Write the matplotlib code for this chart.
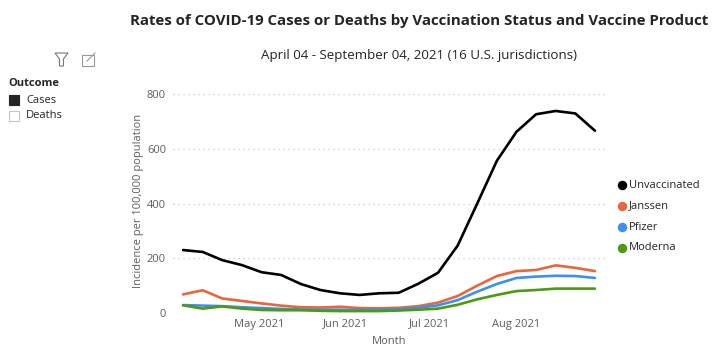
import numpy as np
import pandas as pd
import matplotlib
matplotlib.use("Agg")
import matplotlib.pyplot as plt
import matplotlib.dates as mdates
from matplotlib.patches import Rectangle, Polygon

plt.rcParams["font.family"] = ["Open Sans", "DejaVu Sans"]

# weekly values, MMWR weeks 14-35 (week start dates)
weeks = pd.date_range("2021-04-04", periods=22, freq="7D")

unvaccinated = [230, 223, 193, 175, 149, 139, 106, 84, 72, 66, 72,
                74, 107, 147, 246, 400, 556, 662, 726, 738, 729, 666]
janssen = [68, 83, 53, 44, 35, 27, 21, 20, 23, 18, 17,
           19, 25, 38, 62, 100, 135, 153, 157, 174, 165, 153]
pfizer = [29, 27, 25, 21, 18, 15, 13, 12, 12, 11, 12,
          14, 19, 28, 47, 78, 106, 128, 133, 136, 135, 128]
moderna = [28, 16, 24, 16, 11, 10, 10, 8, 7, 7, 7,
           9, 12, 16, 30, 50, 66, 80, 84, 89, 89, 89]

series_names = ["Unvaccinated", "Janssen", "Pfizer", "Moderna"]
series_colors = ["#000000", "#E8663A", "#3D8EF5", "#4C9A10"]
series_values = [unvaccinated, janssen, pfizer, moderna]

outcomes = ["Cases", "Deaths"]

W, H = 720, 354
fig = plt.figure(figsize=(W / 100, H / 100), dpi=100)

# plot area
ax_left, ax_right, ax_bottom, y800 = 173, 605, 313, 94
ymax = 820
top_px = ax_bottom - (ax_bottom - y800) * ymax / 800
ax = fig.add_axes([ax_left / W, (H - ax_bottom) / H,
                   (ax_right - ax_left) / W, (ax_bottom - top_px) / H])

for name, col, vals in zip(series_names, series_colors, series_values):
    ax.plot(weeks, vals, color=col, lw=1.9, solid_capstyle="round",
            solid_joinstyle="round", label=name, zorder=3)

pad = pd.Timedelta(days=3.6)
ax.set_xlim(weeks[0] - pad, weeks[-1] + pad)
ax.set_ylim(0, ymax)
ax.set_yticks([0, 200, 400, 600, 800])
ax.xaxis.set_major_locator(mdates.MonthLocator(bymonth=[5, 6, 7, 8]))
ax.xaxis.set_major_formatter(mdates.DateFormatter("%b %Y"))
ax.grid(axis="y", color="#C8C8C8", ls=(0, (1, 3)), lw=0.9)
ax.set_axisbelow(True)
for s in ax.spines.values():
    s.set_visible(False)
ax.tick_params(length=0, labelsize=8, colors="#605E5C", pad=4)
ax.tick_params(axis="y", pad=5)
ax.set_xlabel("Month", fontsize=8, color="#605E5C", labelpad=5)
ax.set_ylabel("Incidence per 100,000 population", fontsize=8,
              color="#605E5C", labelpad=2)

# titles
fig.text(419 / W, 1 - 21 / H,
         "Rates of COVID-19 Cases or Deaths by Vaccination Status and Vaccine Product",
         ha="center", va="center", fontsize=10.8, fontweight="bold", color="#252423")
fig.text(419 / W, 1 - 55 / H, "April 04 - September 04, 2021 (16 U.S. jurisdictions)",
         ha="center", va="center", fontsize=9.6, color="#252423")

# right legend
for i, (name, col) in enumerate(zip(series_names, series_colors)):
    yy = 1 - (185 + i * 21) / H
    fig.text(629 / W, yy, name, ha="left", va="center", fontsize=8, color="#252423")
    fig.add_artist(plt.Line2D([622 / W], [yy], marker="o", markersize=5.8,
                              color=col, linestyle="none",
                              transform=fig.transFigure))

# left slicer panel
fig.text(8 / W, 1 - 83 / H, "Outcome", ha="left", va="center",
         fontsize=8, fontweight="bold", color="#252423")
box_fill = ["#252423", "white"]
box_edge = ["#252423", "#C8C6C4"]
for i, lab in enumerate(outcomes):
    yy = 100 + i * 16
    fig.patches.append(Rectangle((9 / W, 1 - (yy + 5) / H), 10 / W, 10 / H,
                                 facecolor=box_fill[i], edgecolor=box_edge[i],
                                 lw=0.8, transform=fig.transFigure, figure=fig))
    fig.text(26 / W, 1 - yy / H, lab, ha="left", va="center",
             fontsize=8, color="#252423")

# header icons (filter and focus mode)
funnel = [(55, 53), (68, 53), (63.5, 59), (63.5, 66), (59.5, 66), (59.5, 59)]
fig.patches.append(Polygon([(x / W, 1 - y / H) for x, y in funnel], closed=True,
                           fill=False, edgecolor="#777777", lw=0.8,
                           transform=fig.transFigure, figure=fig))
fig.patches.append(Rectangle((82 / W, 1 - 66 / H), 12 / W, 11 / H, fill=False,
                             edgecolor="#999999", lw=0.8,
                             transform=fig.transFigure, figure=fig))
fig.add_artist(plt.Line2D([87 / W, 95 / W], [1 - 61 / H, 1 - 53 / H],
                          color="#999999", lw=0.8, transform=fig.transFigure))

fig.savefig("out.png", dpi=100, facecolor="white")
